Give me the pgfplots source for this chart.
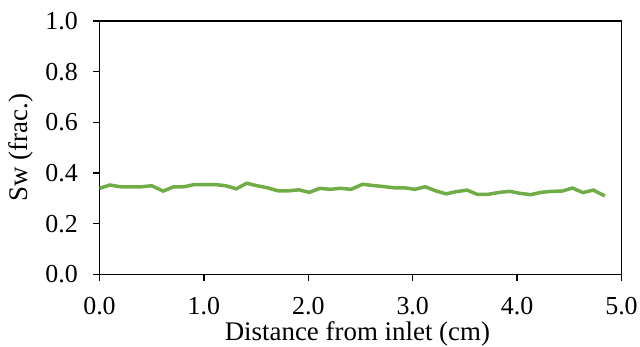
\documentclass[border=0pt]{standalone}
\usepackage{fontspec}
\setmainfont{Liberation Serif}
\usepackage{pgfplots}
\pgfplotsset{compat=1.18}
\definecolor{exgreen}{RGB}{112,173,71}
\begin{document}
\begin{tikzpicture}
\begin{axis}[
  scale only axis,
  width=522bp, height=253.5bp,
  xmin=0, xmax=5, ymin=0, ymax=1,
  xtick={0,1,2,3,4,5}, ytick={0,0.2,0.4,0.6,0.8,1.0},
  tick pos=left, tick align=outside,
  major tick length=6bp,
  axis line style={line width=1.3bp, black},
  every tick/.style={line width=1.3bp, black},
  /pgf/number format/.cd, fixed, fixed zerofill, precision=1, assume math mode=true,
  /pgfplots/.cd,
  ticklabel style={font=\fontsize{26}{28}\selectfont, inner sep=0pt},
  yticklabel style={anchor=east, xshift=-15.5bp},
  xticklabel style={anchor=north, yshift=-16.5bp},
  xlabel={Distance from inlet (cm)},
  ylabel={Sw (frac.)},
  label style={font=\fontsize{27}{30}\selectfont, inner sep=0pt},
  xlabel style={at={(axis description cs:0.494,-0.1853)}, anchor=north},
  ylabel style={at={(axis description cs:-0.1264,0.5)}, anchor=south},
]
\addplot[color=exgreen, line width=3.5bp] coordinates {
(0.00,0.340) (0.10,0.353) (0.20,0.346) (0.30,0.346) (0.40,0.346)
(0.50,0.350) (0.61,0.329) (0.71,0.346) (0.81,0.346) (0.91,0.355)
(1.01,0.355) (1.11,0.355) (1.21,0.350) (1.31,0.338) (1.41,0.360)
(1.51,0.350) (1.61,0.342) (1.71,0.330) (1.81,0.330) (1.91,0.334)
(2.01,0.324) (2.11,0.340) (2.21,0.336) (2.31,0.340) (2.41,0.336)
(2.52,0.356) (2.62,0.351) (2.72,0.347) (2.82,0.342) (2.92,0.342)
(3.02,0.336) (3.12,0.346) (3.22,0.330) (3.32,0.318) (3.42,0.327)
(3.52,0.333) (3.62,0.316) (3.72,0.316) (3.83,0.324) (3.93,0.328)
(4.03,0.320) (4.13,0.315) (4.23,0.324) (4.33,0.328) (4.43,0.329)
(4.53,0.341) (4.63,0.323) (4.73,0.333) (4.84,0.310)
};
\end{axis}
\path (current axis.south west) ++(-99.5bp,-70.5bp) rectangle ++(640bp,345bp);
\end{tikzpicture}
\end{document}
